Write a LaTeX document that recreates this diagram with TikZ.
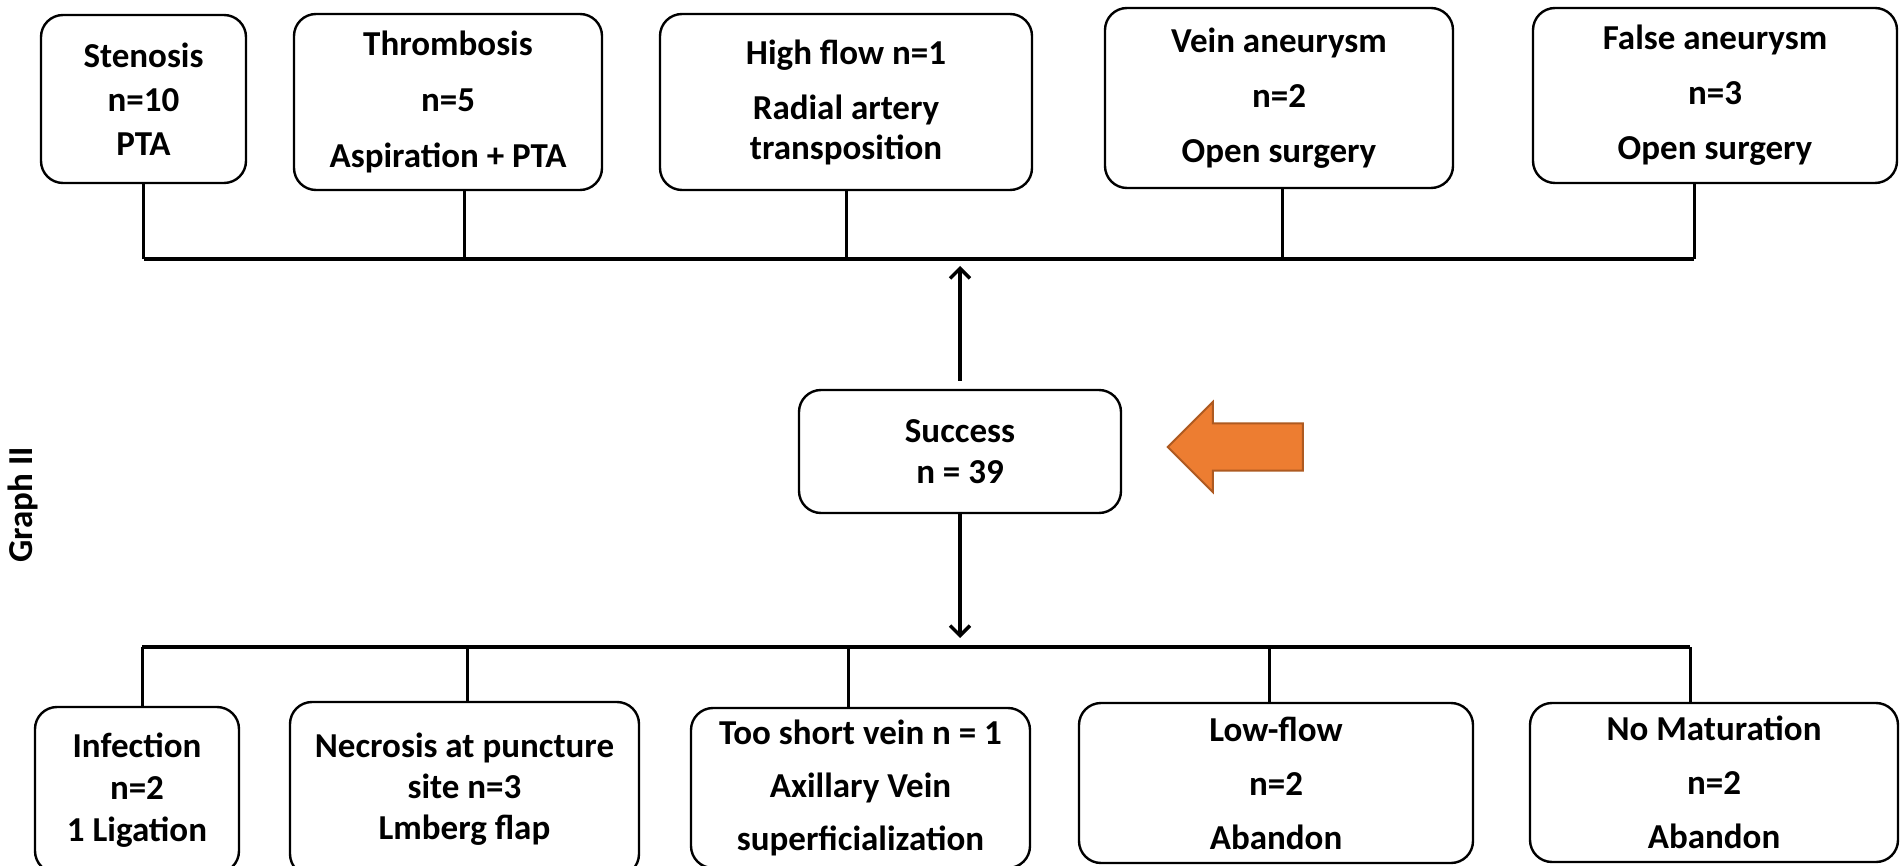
\documentclass[tikz,border=0pt]{standalone}
\usepackage{fontspec}
\setmainfont{Carlito}
\usetikzlibrary{arrows.meta,shapes.arrows}
\definecolor{arrfill}{HTML}{ED7D31}
\definecolor{arrline}{HTML}{AE5A21}

\begin{document}
\begin{tikzpicture}[x=1pt,y=-1pt,
  box/.style={draw,rounded corners=22pt,line width=2.4pt,align=center,inner sep=0pt},
  lsp/.style={font=\fontsize{35}{#1}\selectfont\bfseries},
  stem/.style={line width=3pt},
  bar/.style={line width=4pt},
  arr/.style={line width=3.5pt,-{Straight Barb[length=10pt,width=20pt]}}]
  \useasboundingbox (0,0) rectangle (1901,866);

  % top row
  \node[box,lsp=44,minimum width=205pt,minimum height=168pt] (sten) at (143.5,99) {Stenosis\\n=10\\PTA};
  \node[box,lsp=56,minimum width=308pt,minimum height=176pt] (thromb) at (448,102) {Thrombosis\\n=5\\Aspiration + PTA};
  \node[box,lsp=40,minimum width=372pt,minimum height=176pt] (high) at (846,102) {High flow n=1\\[15pt]Radial artery\\transposition};
  \node[box,lsp=55,minimum width=348pt,minimum height=180pt] (vein) at (1279,98) {Vein aneurysm\\n=2\\Open surgery};
  \node[box,lsp=55,minimum width=364pt,minimum height=175pt] (false) at (1715,95.5) {False aneurysm\\n=3\\Open surgery};

  % middle
  \node[box,lsp=41,minimum width=322pt,minimum height=123pt] (succ) at (960,451.5) {Success\\n = 39};
  \node[single arrow,shape border rotate=180,fill=arrfill,draw=arrline,line width=2pt,
        minimum height=135pt,minimum width=88pt,single arrow head extend=21.5pt,
        single arrow tip angle=90,inner xsep=0pt,inner ysep=22.5pt] (pointer) at (1247,447) {};
  \node[rotate=90,lsp=42] (glabel) at (23,505) {Graph II};

  % bottom row
  \node[box,lsp=42,minimum width=204pt,minimum height=166pt] (infect) at (137,790) {Infection\\n=2\\1 Ligation};
  \node[box,lsp=41,minimum width=349pt,minimum height=174pt] (necro) at (464.5,789) {Necrosis at puncture\\site n=3\\Lmberg flap};
  \node[box,lsp=53,minimum width=339pt,minimum height=160pt] (short) at (860.5,788) {Too short vein n = 1\\Axillary Vein\\superficialization};
  \node[box,lsp=54,minimum width=394pt,minimum height=160pt] (low) at (1276,783) {Low-flow\\n=2\\Abandon};
  \node[box,lsp=54,minimum width=368pt,minimum height=159pt] (nomat) at (1714,782.5) {No Maturation\\n=2\\Abandon};

  \coordinate (tbar) at (0,259);
  \coordinate (bbar) at (0,647);

  \coordinate (t1) at (sten.south);
  \coordinate (t2) at ([xshift=16pt]thromb.south);
  \coordinate (t3) at (high.south);
  \coordinate (t4) at ([xshift=3pt]vein.south);
  \coordinate (t5) at ([xshift=-21pt]false.south);
  \draw[stem] (t1) -- (t1 |- tbar);
  \draw[stem] (t2) -- (t2 |- tbar);
  \draw[stem] (t3) -- (t3 |- tbar);
  \draw[stem] (t4) -- (t4 |- tbar);
  \draw[stem] (t5) -- (t5 |- tbar);
  \draw[bar] (t1 |- tbar) -- (t5 |- tbar);

  \coordinate (b1) at ([xshift=5pt]infect.north);
  \coordinate (b2) at ([xshift=3pt]necro.north);
  \coordinate (b3) at ([xshift=-12pt]short.north);
  \coordinate (b4) at ([xshift=-7pt]low.north);
  \coordinate (b5) at ([xshift=-24pt]nomat.north);
  \draw[stem] (b1 |- bbar) -- (b1);
  \draw[stem] (b2 |- bbar) -- (b2);
  \draw[stem] (b3 |- bbar) -- (b3);
  \draw[stem] (b4 |- bbar) -- (b4);
  \draw[stem] (b5 |- bbar) -- (b5);
  \draw[bar] (b1 |- bbar) -- (b5 |- bbar);

  \draw[arr,shorten <=8pt,shorten >=7pt] (succ.north) -- (succ.north |- tbar);
  \draw[arr,shorten >=9pt] (succ.south) -- (succ.south |- bbar);
\end{tikzpicture}
\end{document}
